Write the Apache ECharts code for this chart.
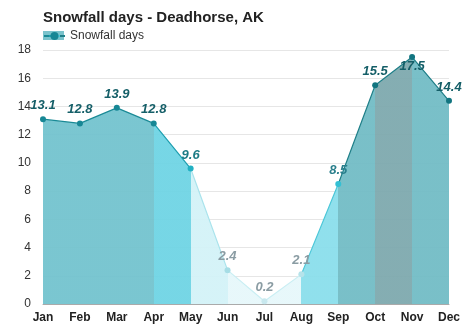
<!DOCTYPE html>
<html><head><meta charset="utf-8">
<script src="https://cdn.jsdelivr.net/npm/echarts@6/dist/echarts.min.js"></script>
<style>html,body{margin:0;padding:0;background:#fff}#c{width:474px;height:331px}</style>
</head><body><div id="c"></div>
<script>
const months = ['Jan','Feb','Mar','Apr','May','Jun','Jul','Aug','Sep','Oct','Nov','Dec'];
const snowfallDays = [13.1, 12.8, 13.9, 12.8, 9.6, 2.4, 0.2, 2.1, 8.5, 15.5, 17.5, 14.4];
const yTicks = [0, 2, 4, 6, 8, 10, 12, 14, 16, 18];

const areaColors = ['#73c3ce','#73c3ce','#73c3ce','#6fd4e4','#d3f2f7','#e6f7fa','#e6f7fa','#8adeeb','#72bcc5','#7ea9ae','#72bcc5'];
const lineColors = ['#1a8a96','#1a8a96','#1a8a96','#1e9fb0','#a9e3ec','#c9eef3','#c9eef3','#4cc7d8','#1f7f88','#1f7f88','#1f7f88'];
const pointColors = ['#178795','#178795','#178795','#178795','#22b0c2','#a6dde5','#c8e8ee','#b6e3ea','#33c0d4','#127580','#127580','#127580'];
const labelColors = ['#155f68','#155f68','#155f68','#155f68','#1c7b85','#8a9ca3','#8a9ca3','#8a9ca3','#2a7f8c','#155f68','#155f68','#155f68'];

function hardStops(cols){
  const n = cols.length, stops = [];
  cols.forEach((c,i)=>{ stops.push({offset:i/n,color:c}); stops.push({offset:(i+1)/n,color:c}); });
  return new echarts.graphic.LinearGradient(0,0,1,0,stops);
}
const maxIdx = snowfallDays.indexOf(Math.max(...snowfallDays));

const chart = echarts.init(document.getElementById('c'), null, {renderer:'canvas'});
chart.setOption({
  animation:false,
  textStyle:{fontFamily:'Liberation Sans, Arial, sans-serif'},
  title:{text:'Snowfall days - Deadhorse, AK', left:38, top:5,
    textStyle:{fontSize:15, fontWeight:'bold', color:'#222', fontFamily:'Liberation Sans, Arial, sans-serif'}},
  legend:{left:38, top:25, itemWidth:21, itemHeight:10, itemGap:6,
    textStyle:{fontSize:12, color:'#333'}, data:['Snowfall days']},
  graphic:[{type:'rect', left:43, top:31, shape:{width:21, height:9}, style:{fill:'#7ac3cc'}, z:1}],
  grid:{left:43, right:25, top:50, bottom:27, containLabel:false},
  xAxis:{type:'category', data:months, boundaryGap:false,
    axisLine:{lineStyle:{color:'#aaa', width:1}}, axisTick:{show:false},
    axisLabel:{fontSize:12, fontWeight:'bold', color:'#222', margin:8},
    splitLine:{show:false}},
  yAxis:{type:'value', min:yTicks[0], max:yTicks[yTicks.length-1], interval:2,
    axisLine:{show:false}, axisTick:{show:false},
    axisLabel:{fontSize:12, color:'#333', margin:12},
    splitLine:{lineStyle:{color:'#e6e6e6'}}},
  series:[{
    name:'Snowfall days', type:'line', data:snowfallDays.map((v,i)=>({value:v,
      itemStyle:{color:pointColors[i]},
      label: i===maxIdx ? {color:labelColors[i], position:'bottom', distance:0} : {color:labelColors[i]}})),
    symbol:'circle', symbolSize:6,
    lineStyle:{width:1.2, color:hardStops(lineColors)},
    areaStyle:{color:hardStops(areaColors), opacity:0.95},
    itemStyle:{color:'#178795'},
    label:{show:true, position:'top', distance:4, fontSize:13, fontWeight:'bold', fontStyle:'italic'},
    z:2
  }]
});
</script></body></html>
